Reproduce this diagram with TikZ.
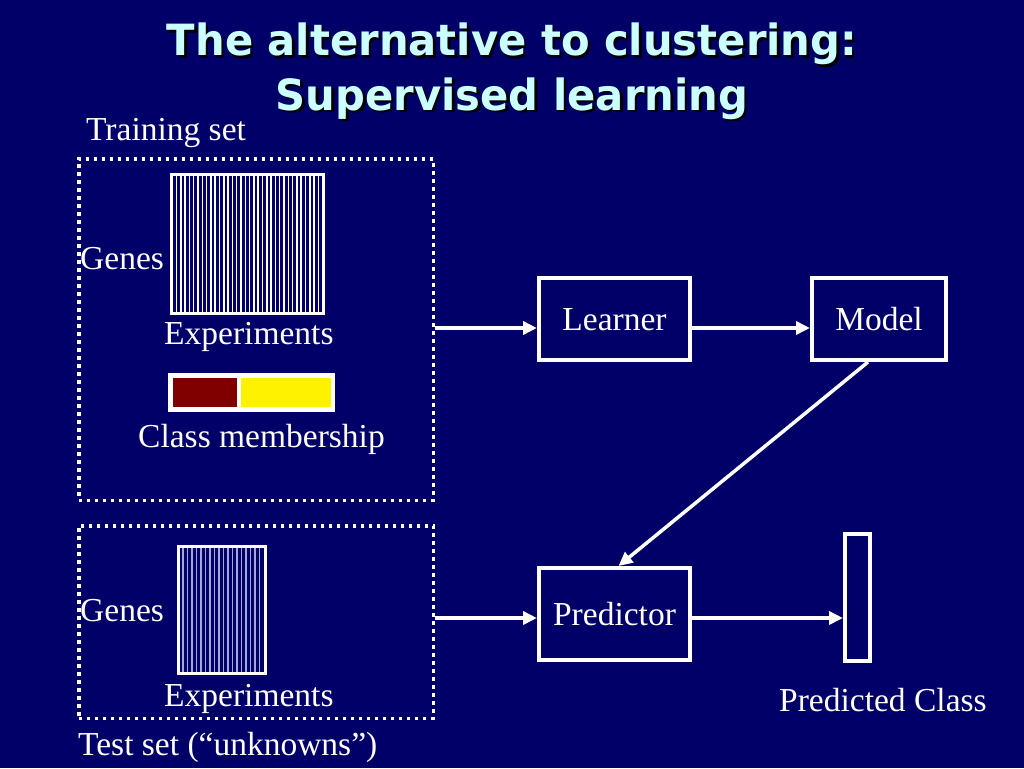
\documentclass[tikz,border=0pt]{standalone}
\usepackage{fontspec}
\setmainfont{Liberation Serif}
\newfontfamily\titlefont[FakeStretch=0.97]{DejaVu Sans}
\usetikzlibrary{arrows.meta}
\definecolor{slidebg}{RGB}{0,0,104}
\definecolor{titlecyan}{RGB}{204,255,255}
\definecolor{classred}{RGB}{128,0,0}
\definecolor{stripegray}{RGB}{165,165,215}

\begin{document}
\begin{tikzpicture}[x=1pt, y=-1pt, every node/.style={font=\fontsize{33.5}{40}\selectfont, text=white, inner sep=0pt},
	ttl/.style={font=\titlefont\bfseries\fontsize{43}{54}\selectfont, anchor=base},
	lab/.style={anchor=base west},
	box/.style={draw=white, line width=4pt, text height=22pt, text depth=0pt},
	setbox/.style={draw=white, line width=3.5pt, dash pattern=on 3.5pt off 4.5pt},
	matbox/.style={draw=white, line width=3pt},
	arr/.style={white, line width=3.5pt, -{Triangle[length=14pt, width=13pt]}}]
	\fill[slidebg] (0,0) rectangle (1024,768);
	\node[ttl, text=black] (title1s) at (514.5,58.5) {The alternative to clustering:};
	\node[ttl, text=black] (title2s) at (514.5,112.5) {Supervised learning};
	\node[ttl, text=titlecyan] (title1) at (512,56) {The alternative to clustering:};
	\node[ttl, text=titlecyan] (title2) at (512,110) {Supervised learning};
	\node[setbox, minimum width=354.5pt, minimum height=341.5pt] (train) at (256,329.5) {};
	\node[setbox, minimum width=354.5pt, minimum height=192.5pt] (test) at (256,622) {};
	\node[lab] (trainlab) at (86,140) {Training set};
	\node[lab] (testlab) at (78,755) {Test set (“unknowns”)};
	\node[matbox, minimum width=152pt, minimum height=139pt] (mtrain) at (247.5,244) {};
	\foreach \i in {0,...,33} {\draw[white, line width=1.5pt] (176.5+\i*4.3,175) -- (176.5+\i*4.3,313);}
	\node[matbox, minimum width=87pt, minimum height=127pt] (mtest) at (222,610) {};
	\foreach \i in {0,...,17} {\draw[stripegray, line width=1.5pt] (183+\i*4.5,548) -- (183+\i*4.5,672);}
	\node[lab] (genes1) at (80,269) {Genes};
	\node[lab] (exp1) at (164,344) {Experiments};
	\node[lab] (genes2) at (80,621) {Genes};
	\node[lab] (exp2) at (164,706) {Experiments};
	\node[fill=white, minimum width=167pt, minimum height=39pt] (cbar) at (251.5,392.5) {};
	\node[fill=classred, minimum width=64pt, minimum height=29pt] (cred) at (205,392.5) {};
	\node[fill=yellow, minimum width=90pt, minimum height=29pt] (cyellow) at (286,392.5) {};
	\node[lab] (classlab) at (138,447) {Class membership};
	\node[box, minimum width=151pt, minimum height=82pt] (learner) at (614.5,319) {Learner};
	\node[box, minimum width=134pt, minimum height=82pt] (model) at (879,319) {Model};
	\node[box, minimum width=151pt, minimum height=92pt] (predictor) at (614.5,614) {Predictor};
	\node[draw=white, line width=4pt, minimum width=25pt, minimum height=127pt] (pclass) at (857.5,597.5) {};
	\node[lab] (pclasslab) at (779,711) {Predicted Class};
	\draw[arr] ([yshift=-9pt]train.east |- learner.west) -- ([yshift=-9pt]learner.west);
	\draw[arr] ([yshift=-9pt]learner.east) -- ([yshift=-9pt]model.west);
	\draw[arr] ([xshift=-11pt]model.south) -- ([xshift=4pt]predictor.north);
	\draw[arr] ([yshift=-4pt]test.east |- predictor.west) -- ([yshift=-4pt]predictor.west);
	\draw[arr] ([yshift=-4pt]predictor.east) -- ([yshift=-4pt]predictor.east -| pclass.west);
\end{tikzpicture}
\end{document}
